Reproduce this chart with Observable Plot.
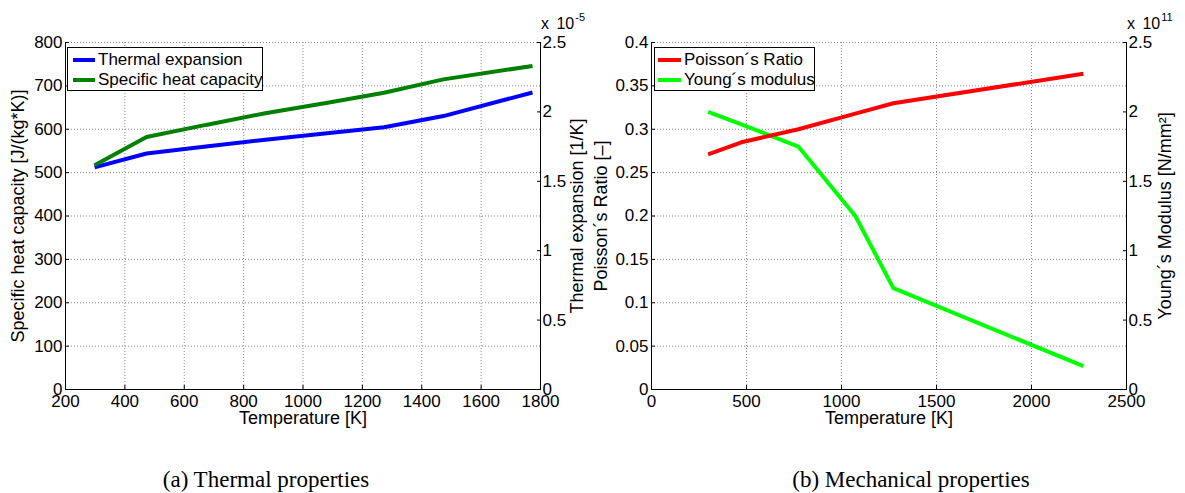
<!DOCTYPE html>
<html><head><meta charset="utf-8">
<script src="https://cdn.jsdelivr.net/npm/d3@7"></script>
<script src="https://cdn.jsdelivr.net/npm/@observablehq/plot@0.6"></script>
<style>
body{margin:0;background:#fff;}
#root{position:relative;width:1185px;height:493px;overflow:hidden;font-family:"Liberation Sans",Arial,sans-serif;color:#000;}
.panel{position:absolute;top:0;}
.legend{position:absolute;border:1px solid #000;background:#fff;font-size:17px;box-sizing:border-box;}
.swatch{position:absolute;height:4px;}
.lab{position:absolute;line-height:20px;white-space:nowrap;}
.mult{position:absolute;font-size:16px;line-height:16px;white-space:nowrap;word-spacing:3px;}
.mult span{position:relative;top:-8px;font-size:11px;margin-left:1px;}
.caption{position:absolute;top:466px;font-family:"Liberation Serif","Times New Roman",serif;font-size:23px;line-height:28px;transform:translateX(-50%);white-space:nowrap;}
</style></head>
<body><div id="root"></div>
<script>
// ---- data ----
const tempThermal      = [298, 473, 673, 873, 1073, 1273, 1473, 1773];        // K
const thermalExpansion = [1.60, 1.70, 1.75, 1.80, 1.845, 1.89, 1.97, 2.14];   // x 1e-5 1/K
const specificHeat     = [517, 582, 610, 637, 660, 684, 715, 746];            // J/(kg*K)

const tempMech      = [298, 473, 773, 1073, 1273, 2273];                      // K
const poissonRatio  = [0.271, 0.285, 0.300, 0.318, 0.330, 0.364];             // -
const youngsModulus = [2.00, 1.91, 1.75, 1.25, 0.73, 0.168];                  // x 1e11 N/mm^2

// ---- tick labels ----
const xTicksA  = [200, 400, 600, 800, 1000, 1200, 1400, 1600, 1800];
const yTicksA  = [0, 100, 200, 300, 400, 500, 600, 700, 800];
const y2TicksA = [0, 0.5, 1, 1.5, 2, 2.5];
const xTicksB  = [0, 500, 1000, 1500, 2000, 2500];
const yTicksB  = [0, 0.05, 0.1, 0.15, 0.2, 0.25, 0.3, 0.35, 0.4];
const y2TicksB = [0, 0.5, 1, 1.5, 2, 2.5];

const fmt = d => String(+(+d).toFixed(4));

function panel({width, marginLeft, marginRight, xTicks, yTicks, y2Ticks, left, right, yLabel, y2Label, yLabelDx, y2LabelDx}) {
  const k = yTicks[yTicks.length - 1] / y2Ticks[y2Ticks.length - 1];
  const rows = (xs, ys, f) => xs.map((x, i) => ({x, y: f(ys[i])}));
  const grid = {stroke: "#8a8a8a", strokeOpacity: 1, strokeDasharray: "1,2"};
  const lbl = {text: d => d, rotate: -90, fontSize: 18, textAnchor: "middle", lineAnchor: "middle"};
  return Plot.plot({
    width, height: 430, marginLeft, marginRight, marginTop: 42, marginBottom: 41,
    style: {fontFamily: "'Liberation Sans', Arial, sans-serif", fontSize: "17px", color: "#000", background: "transparent", overflow: "visible"},
    x: {domain: [xTicks[0], xTicks[xTicks.length - 1]]},
    y: {domain: [yTicks[0], yTicks[yTicks.length - 1]]},
    marks: [
      Plot.gridX(xTicks, grid),
      Plot.gridY(yTicks, grid),
      Plot.ruleX([xTicks[0], xTicks[xTicks.length - 1]], {stroke: "#000", strokeWidth: 1}),
      Plot.ruleY([yTicks[0]], {stroke: "#000", strokeWidth: 1}),
      Plot.axisX(xTicks, {anchor: "bottom", tickSize: -4, tickPadding: 9, tickFormat: d => String(d), label: null}),
      Plot.axisY(yTicks, {anchor: "left", tickSize: -4, tickPadding: 7, tickFormat: fmt, label: null}),
      Plot.axisY(y2Ticks.map(t => t * k), {anchor: "right", tickSize: -4, tickPadding: 6, tickFormat: d => fmt(d / k), label: null}),
      Plot.line(rows(right.x, right.v, v => v * k), {x: "x", y: "y", stroke: right.color, strokeWidth: 4, strokeLinecap: "butt", strokeLinejoin: "miter"}),
      Plot.line(rows(left.x, left.v, v => v), {x: "x", y: "y", stroke: left.color, strokeWidth: 4, strokeLinecap: "butt", strokeLinejoin: "miter"}),
      Plot.text([yLabel], {...lbl, frameAnchor: "left", dx: yLabelDx}),
      Plot.text([y2Label], {...lbl, frameAnchor: "right", dx: y2LabelDx}),
      Plot.text(["Temperature [K]"], {text: d => d, frameAnchor: "bottom", dy: 29, fontSize: 18, textAnchor: "middle", lineAnchor: "middle"})
    ]
  });
}

const root = document.getElementById("root");

const pA = panel({
  width: 600, marginLeft: 65, marginRight: 60,
  xTicks: xTicksA, yTicks: yTicksA, y2Ticks: y2TicksA,
  right: {x: tempThermal, v: thermalExpansion, color: "#0000ff"},
  left:  {x: tempThermal, v: specificHeat, color: "#008000"},
  yLabel: "Specific heat capacity [J/(kg*K)]", y2Label: "Thermal expansion [1/K]",
  yLabelDx: -47, y2LabelDx: 37
});
pA.classList.add("panel"); pA.style.left = "0px";
root.appendChild(pA);

const pB = panel({
  width: 590, marginLeft: 56, marginRight: 59,
  xTicks: xTicksB, yTicks: yTicksB, y2Ticks: y2TicksB,
  left:  {x: tempMech, v: poissonRatio, color: "#ff0000"},
  right: {x: tempMech, v: youngsModulus, color: "#00ff00"},
  yLabel: "Poisson\u00b4s Ratio [\u2013]", y2Label: "Young\u00b4s Modulus [N/mm\u00b2]",
  yLabelDx: -50, y2LabelDx: 39
});
pB.classList.add("panel"); pB.style.left = "595px";
root.appendChild(pB);

// legends
function legend(left, width, items, swLeft, swWidth, textLeft) {
  const d = document.createElement("div");
  d.className = "legend";
  Object.assign(d.style, {left: left + "px", top: "47px", width: width + "px", height: "44px"});
  items.forEach(([label, color], i) => {
    const s = document.createElement("div");
    s.className = "swatch";
    Object.assign(s.style, {left: swLeft + "px", width: swWidth + "px", top: (10 + 20 * i) + "px", background: color});
    const t = document.createElement("div");
    t.className = "lab";
    Object.assign(t.style, {left: textLeft + "px", top: (2 + 20 * i) + "px"});
    t.textContent = label;
    d.appendChild(s); d.appendChild(t);
  });
  root.appendChild(d);
}
legend(67, 196, [["Thermal expansion", "#0000ff"], ["Specific heat capacity", "#008000"]], 5, 22, 30);
legend(654, 161, [["Poisson\u00b4s Ratio", "#ff0000"], ["Young\u00b4s modulus", "#00ff00"]], 3, 23, 29);

// exponent labels
function mult(left, base, exp) {
  const d = document.createElement("div");
  d.className = "mult";
  Object.assign(d.style, {left: left + "px", top: "16px"});
  d.textContent = base;
  const s = document.createElement("span");
  s.textContent = exp;
  d.appendChild(s);
  root.appendChild(d);
}
mult(541, "x 10", "-5");
mult(1127, "x 10", "11");

// captions
function caption(cx, text) {
  const d = document.createElement("div");
  d.className = "caption";
  d.style.left = cx + "px";
  d.textContent = text;
  root.appendChild(d);
}
caption(266, "(a) Thermal properties");
caption(911, "(b) Mechanical properties");
</script>
</body></html>
